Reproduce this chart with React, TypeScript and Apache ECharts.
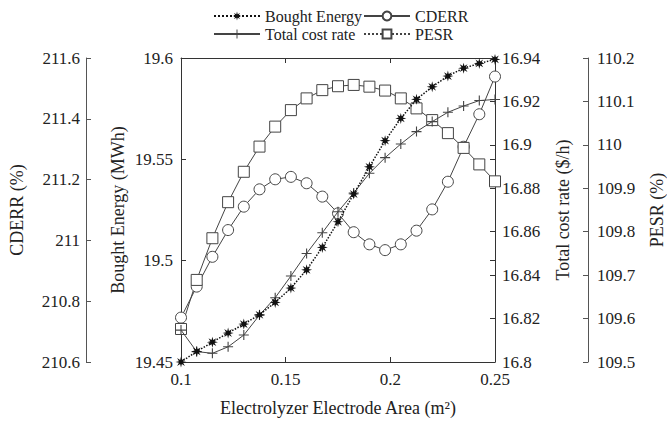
import React, { useEffect, useRef } from "react";
import * as echarts from "echarts";

const areas = [0.1, 0.1075, 0.115, 0.1225, 0.13, 0.1375, 0.145, 0.1525, 0.16, 0.1675, 0.175, 0.1825, 0.19, 0.1975, 0.205, 0.2125, 0.22, 0.2275, 0.235, 0.2425, 0.25];
const boughtEnergy = [19.45, 19.4552, 19.4598, 19.4643, 19.4687, 19.4733, 19.4794, 19.4865, 19.4955, 19.5065, 19.5192, 19.5329, 19.5463, 19.5592, 19.5702, 19.5796, 19.5858, 19.5911, 19.595, 19.5973, 19.5993];
const cderr = [210.746, 210.848, 210.946, 211.034, 211.111, 211.168, 211.201, 211.209, 211.188, 211.144, 211.089, 211.027, 210.987, 210.968, 210.987, 211.032, 211.102, 211.193, 211.308, 211.415, 211.539];
const totalCost = [16.8147, 16.8048, 16.804, 16.807, 16.8124, 16.8216, 16.8296, 16.8396, 16.85, 16.8595, 16.8692, 16.8778, 16.8869, 16.8941, 16.9004, 16.9061, 16.9107, 16.915, 16.9179, 16.9204, 16.9209];
const pesr = [109.576, 109.689, 109.785, 109.868, 109.938, 109.996, 110.042, 110.08, 110.107, 110.126, 110.135, 110.138, 110.134, 110.125, 110.107, 110.084, 110.057, 110.027, 109.993, 109.955, 109.916];

const FONT = "'Liberation Serif', 'Times New Roman', serif";
const TXT = "#222";
const STAR = "path://M10,5L6.9,5.79L8.54,8.54L5.79,6.9L5,10L4.21,6.9L1.46,8.54L3.1,5.79L0,5L3.1,4.21L1.46,1.46L4.21,3.1L5,0L5.79,3.1L8.54,1.46L6.9,4.21Z";
const PLUS = "path://M4.45,0H5.55V4.45H10V5.55H5.55V10H4.45V5.55H0V4.45H4.45Z";

const fmt = (v: number) => String(parseFloat(v.toFixed(3)));
const pairs = (ys: number[]) => areas.map((x, i) => [x, ys[i]]);

export default function App() {
  const ref = useRef<HTMLDivElement>(null);
  useEffect(() => {
    if (!ref.current) return;
    const chart = echarts.init(ref.current, null, { renderer: "svg" });
    const labelStyle = { fontFamily: FONT, fontSize: 17, color: TXT };
    const nameStyle = { fontFamily: FONT, fontSize: 18, color: TXT };
    const legendBase = {
      itemWidth: 46,
      itemHeight: 11,
      itemGap: 4,
      textStyle: { fontFamily: FONT, fontSize: 16, color: TXT },
      padding: 0,
    };
    chart.setOption({
      animation: false,
      backgroundColor: "#fff",
      legend: [
        { ...legendBase, data: ["Bought Energy"], left: 213, top: 8 },
        { ...legendBase, data: ["CDERR"], left: 363, top: 8 },
        { ...legendBase, data: ["Total cost rate"], left: 213, top: 26 },
        { ...legendBase, data: ["PESR"], left: 363, top: 26, lineStyle: { type: "dotted" } },
      ],
      grid: { left: 181, right: 172, top: 58, bottom: 63 },
      xAxis: [
        {
          type: "value",
          min: 0.1,
          max: 0.25,
          interval: 0.05,
          name: "Electrolyzer Electrode Area (m²)",
          nameLocation: "middle",
          nameGap: 37,
          nameTextStyle: nameStyle,
          axisLine: { lineStyle: { color: "#333", width: 1 } },
          axisTick: { inside: true, length: 5, lineStyle: { color: "#333" } },
          axisLabel: { ...labelStyle, margin: 9, formatter: fmt },
          splitLine: { show: false },
        },
        {
          type: "value",
          position: "top",
          min: 0.1,
          max: 0.25,
          interval: 0.05,
          axisLine: { lineStyle: { color: "#333", width: 1 } },
          axisTick: { inside: true, length: 5, lineStyle: { color: "#333" } },
          axisLabel: { show: false },
          splitLine: { show: false },
        },
      ],
      yAxis: [
        {
          type: "value",
          position: "left",
          min: 19.45,
          max: 19.6,
          interval: 0.05,
          name: "Bought Energy (MWh)",
          nameLocation: "middle",
          nameGap: 54,
          nameRotate: 90,
          nameTextStyle: nameStyle,
          axisLine: { show: true, lineStyle: { color: "#333" } },
          axisTick: { show: true, inside: true, length: 5, lineStyle: { color: "#333" } },
          axisLabel: { ...labelStyle, margin: 8, formatter: fmt },
          splitLine: { show: false },
        },
        {
          type: "value",
          position: "left",
          offset: 95,
          min: 210.6,
          max: 211.6,
          interval: 0.2,
          name: "CDERR (%)",
          nameLocation: "middle",
          nameGap: 60,
          nameRotate: 90,
          nameTextStyle: nameStyle,
          axisLine: { show: true, lineStyle: { color: "#555" } },
          axisTick: { show: true, inside: true, length: 5, lineStyle: { color: "#555" } },
          axisLabel: { ...labelStyle, margin: 6, formatter: fmt },
          splitLine: { show: false },
        },
        {
          type: "value",
          position: "right",
          min: 16.8,
          max: 16.94,
          interval: 0.02,
          name: "Total cost rate ($/h)",
          nameLocation: "middle",
          nameGap: 59,
          nameRotate: 90,
          nameTextStyle: nameStyle,
          axisLine: { show: true, lineStyle: { color: "#333" } },
          axisTick: { show: true, inside: true, length: 5, lineStyle: { color: "#333" } },
          axisLabel: { ...labelStyle, margin: 7, formatter: fmt },
          splitLine: { show: false },
        },
        {
          type: "value",
          position: "right",
          offset: 93,
          min: 109.5,
          max: 110.2,
          interval: 0.1,
          name: "PESR (%)",
          nameLocation: "middle",
          nameGap: 60,
          nameRotate: 90,
          nameTextStyle: nameStyle,
          axisLine: { show: true, lineStyle: { color: "#555" } },
          axisTick: { show: true, inside: true, length: 5, lineStyle: { color: "#555" } },
          axisLabel: { ...labelStyle, margin: 9, formatter: fmt },
          splitLine: { show: false },
        },
        {
          type: "value",
          position: "right",
          min: 19.45,
          max: 19.6,
          interval: 0.05,
          axisLine: { show: false },
          axisTick: { show: true, inside: true, length: 5, lineStyle: { color: "#333" } },
          axisLabel: { show: false },
          splitLine: { show: false },
        },
      ],
      series: [
        {
          name: "CDERR",
          type: "line",
          yAxisIndex: 1,
          data: pairs(cderr),
          symbol: "circle",
          symbolSize: 11,
          showAllSymbol: true,
          lineStyle: { color: "#444", width: 1, type: "solid" },
          itemStyle: { color: "#fff", borderColor: "#444", borderWidth: 1 },
          z: 2,
        },
        {
          name: "PESR",
          type: "line",
          yAxisIndex: 3,
          data: pairs(pesr),
          symbol: "rect",
          symbolSize: 11,
          showAllSymbol: true,
          lineStyle: { color: "#444", width: 1, type: "solid" },
          itemStyle: { color: "#fff", borderColor: "#444", borderWidth: 1 },
          z: 2,
        },
        {
          name: "Total cost rate",
          type: "line",
          yAxisIndex: 2,
          data: pairs(totalCost),
          symbol: PLUS,
          symbolSize: 10,
          showAllSymbol: true,
          lineStyle: { color: "#444", width: 1, type: "solid" },
          itemStyle: { color: "#444", borderWidth: 0 },
          z: 3,
        },
        {
          name: "Bought Energy",
          type: "line",
          yAxisIndex: 0,
          data: pairs(boughtEnergy),
          symbol: STAR,
          symbolSize: 11,
          showAllSymbol: true,
          lineStyle: { color: "#111", width: 1.5, type: "dotted" },
          itemStyle: { color: "#111", borderWidth: 0 },
          z: 4,
        },
      ],
    });
    return () => chart.dispose();
  }, []);
  return <div ref={ref} style={{ width: 667, height: 425, position: "absolute", left: 0, top: 0 }} />;
}
